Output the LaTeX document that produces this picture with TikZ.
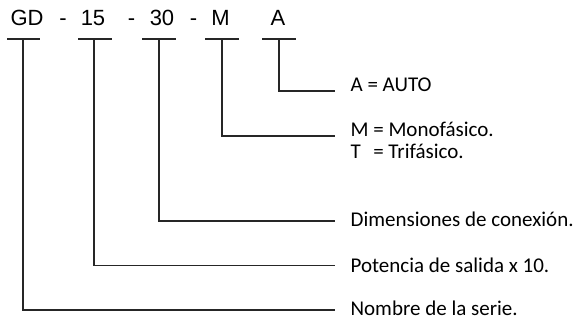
\documentclass[tikz,border=0pt]{standalone}
\usepackage{fontspec}
\setmainfont{Carlito}
\newfontfamily\hdrfont{Liberation Sans}
\begin{document}
\begin{tikzpicture}[x=1pt,y=-1pt,line width=1.2pt,
  hdr/.style={font=\hdrfont\fontsize{22}{26}\selectfont,inner sep=0pt,anchor=base},
  lbl/.style={font=\fontsize{21}{25}\selectfont,inner sep=0pt,anchor=base west},
  conn/.style={draw=black!85,line width=1.2pt}]
\useasboundingbox (0,0) rectangle (578,320);
% header tokens
\node[hdr] (gd) at (27,26) {GD};
\node[hdr] (d1) at (63,26) {-};
\node[hdr] (n15) at (93,26) {15};
\node[hdr] (d2) at (131.5,26) {-};
\node[hdr] (n30) at (162,26) {30};
\node[hdr] (d3) at (193.5,26) {-};
\node[hdr] (m) at (220.5,26) {M};
\node[hdr] (a) at (278,26) {A};
% bars
\coordinate (gdL) at (7,39);   \coordinate (gdR) at (40,39);  \coordinate (gdC) at (23,39);
\coordinate (n15L) at (78,39); \coordinate (n15R) at (112,39); \coordinate (n15C) at (94,39);
\coordinate (n30L) at (142,39); \coordinate (n30R) at (176,39); \coordinate (n30C) at (159,39);
\coordinate (mL) at (205,39); \coordinate (mR) at (239,39); \coordinate (mC) at (222,39);
\coordinate (aL) at (262,39); \coordinate (aR) at (296,39); \coordinate (aC) at (279,39);
\foreach \t in {gd,n15,n30,m,a} \draw[conn] (\t L) -- (\t R);
% labels
\node[lbl] (la) at (350,92) {A = AUTO};
\node[lbl] (lm) at (350,137) {M = Monofásico.};
\node[lbl] (lt) at (350,159) {\rlap{T}\phantom{M} = Trifásico.};
\node[lbl] (ld) at (350,227) {Dimensiones de conexión.};
\node[lbl] (lp) at (350,272.5) {Potencia de salida x 10.};
\node[lbl] (ln) at (350,315) {Nombre de la serie.};
% connector ends
\coordinate (ea) at (335,91);
\coordinate (em) at (335,136);
\coordinate (ed) at (335,221);
\coordinate (ep) at (335,265.5);
\coordinate (en) at (335,310);
\draw[conn] (aC) |- (ea);
\draw[conn] (mC) |- (em);
\draw[conn] (n30C) |- (ed);
\draw[conn] (n15C) |- (ep);
\draw[conn] (gdC) |- (en);
\end{tikzpicture}
\end{document}
